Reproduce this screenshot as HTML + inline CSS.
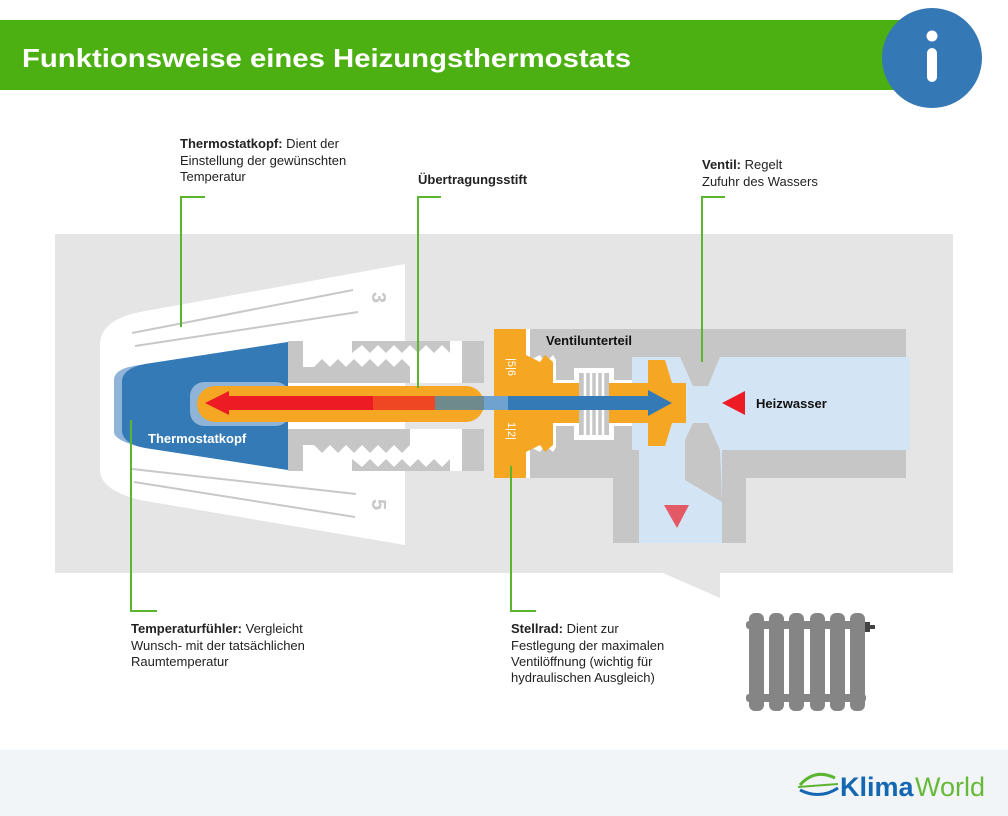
<!DOCTYPE html>
<html><head><meta charset="utf-8"><style>
html,body{margin:0;padding:0;background:#fff;}
svg{display:block;font-family:"Liberation Sans","DejaVu Sans",sans-serif;}
</style></head><body>
<svg width="1008" height="816" viewBox="0 0 1008 816" xmlns="http://www.w3.org/2000/svg">
<!-- header -->
<rect x="0" y="20" width="905" height="70" fill="#4cb012"/>
<text x="22" y="67" font-size="26" font-weight="bold" fill="#fff" textLength="609" lengthAdjust="spacingAndGlyphs">Funktionsweise eines Heizungsthermostats</text>
<circle cx="932" cy="58" r="50" fill="#3478b5"/>
<circle cx="932" cy="36" r="5.5" fill="#fff"/>
<rect x="927" y="48" width="10" height="34" rx="5" fill="#fff"/>

<!-- grey background -->
<rect x="55" y="234" width="898" height="339" fill="#e5e5e5"/>
<polygon points="663,573 720,598 720,573" fill="#e5e5e5"/>

<!-- white head -->
<path d="M100,345 Q100,320 140,312 L405,264 L405,545 L140,500 Q100,490 100,470 Z" fill="#fff"/>
<g stroke="#c8c8c8" stroke-width="2">
<line x1="132" y1="333" x2="353" y2="290"/>
<line x1="135" y1="346" x2="358" y2="312"/>
<line x1="132" y1="469" x2="356" y2="494"/>
<line x1="134" y1="482" x2="355" y2="517"/>
</g>
<text x="0" y="0" font-size="20" font-weight="bold" fill="#c8c8c8" transform="translate(372,292) rotate(90)">3</text>
<text x="0" y="0" font-size="20" font-weight="bold" fill="#c8c8c8" transform="translate(372,499) rotate(90)">5</text>

<!-- thermostat head blue -->
<path d="M114,380 Q114,368 140,365 L288,342 L288,470 L140,447 Q114,440 114,432 Z" fill="#8fb4d8"/>
<path d="M122,380 Q124,368 145,364 L288,342 L288,470 L145,448 Q124,444 122,432 Z" fill="#347ab7"/>
<text x="148" y="443" font-size="13" font-weight="bold" fill="#fff">Thermostatkopf</text>

<!-- threaded part -->
<g id="thr">
<rect x="288" y="341" width="196" height="42" fill="#c6c6c6"/>
<rect x="303" y="341" width="159" height="42" fill="#fff"/>
<polygon points="352,341 450,341 450,353 442,345 434,353 426,345 418,353 410,345 402,353 394,345 386,353 378,345 370,353 362,345 352,353" fill="#c6c6c6"/>
<polygon points="303,383 410,383 410,367 402,359 394,367 386,359 378,367 370,359 362,367 354,359 346,367 338,359 330,367 322,359 314,367 303,367" fill="#c6c6c6"/>
</g>
<use href="#thr" transform="translate(0,812) scale(1,-1)"/>

<!-- rod -->
<rect x="190" y="382" width="100" height="44" rx="14" fill="#8fb4d8"/>
<rect x="197" y="386" width="287" height="36" rx="18" fill="#f5a623"/>

<!-- valve housing -->
<rect x="526" y="329" width="380" height="149" fill="#c6c6c6"/>
<rect x="613" y="478" width="133" height="65" fill="#c6c6c6"/>
<rect x="632" y="357" width="278" height="93" fill="#d3e4f4"/>
<rect x="639" y="450" width="83" height="93" fill="#d3e4f4"/>
<polygon points="680,357 720,357 708,386 693,386" fill="#c6c6c6"/>
<polygon points="693,423 708,423 720,450 722,502 685,480 685,440" fill="#c6c6c6"/>

<!-- white gaps around body -->
<polygon points="526,329 530,329 530,360 540,355 545,363 553,355 556,360 556,380 632,380 632,426 556,426 556,447 553,452 545,445 540,452 530,447 530,478 526,478" fill="#fff"/>
<rect x="574" y="368" width="40" height="72" fill="#fff"/>
<!-- orange stellrad -->
<rect x="494" y="329" width="32" height="149" fill="#f5a623"/>
<polygon points="526,355 540,362 545,355 553,362 553,383 686,383 686,423 553,423 553,445 545,452 540,445 526,452" fill="#f5a623"/>
<rect x="579" y="373" width="30" height="62" fill="#c6c6c6"/>
<g stroke="#fff" stroke-width="2.5"><line x1="585" y1="373" x2="585" y2="435"/><line x1="591" y1="373" x2="591" y2="435"/><line x1="597" y1="373" x2="597" y2="435"/><line x1="603" y1="373" x2="603" y2="435"/></g>
<polygon points="648,360 665,360 672,383 672,423 665,446 648,446" fill="#f5a623"/>
<text x="0" y="0" font-size="11" fill="#fff" transform="translate(508,358) rotate(90)">|5|6</text>
<text x="0" y="0" font-size="11" fill="#fff" transform="translate(508,422) rotate(90)">1|2|</text>

<!-- arrows -->
<rect x="225" y="396" width="148" height="14" fill="#ed1c24"/>
<rect x="373" y="396" width="62" height="14" fill="#ef4623"/>
<rect x="435" y="396" width="73" height="14" fill="#6e8a8c"/>
<rect x="484" y="396" width="24" height="14" fill="#6fa2cf"/>
<polygon points="205,403 229,391 229,415" fill="#ed1c24"/>
<rect x="508" y="396" width="142" height="14" fill="#347ab7"/>
<polygon points="648,390 672,403 648,416" fill="#347ab7"/>

<polygon points="722,403 745,391 745,415" fill="#ed1c24"/>
<polygon points="664,505 689,505 677,528" fill="#e35a66"/>
<text x="546" y="345" font-size="13" font-weight="bold" fill="#111">Ventilunterteil</text>
<text x="756" y="408" font-size="13" font-weight="bold" fill="#111">Heizwasser</text>

<!-- callouts -->
<g stroke="#5cb531" stroke-width="2" fill="none">
<polyline points="205,197 181,197 181,327"/>
<polyline points="441,197 418,197 418,388"/>
<polyline points="725,197 702,197 702,362"/>
<polyline points="131,420 131,611 157,611"/>
<polyline points="511,466 511,611 536,611"/>
</g>
<g font-size="13" fill="#222">
<text x="180" y="148"><tspan font-weight="bold">Thermostatkopf:</tspan> Dient der</text>
<text x="180" y="165">Einstellung der gewünschten</text>
<text x="180" y="181">Temperatur</text>
<text x="418" y="184" font-weight="bold">Übertragungsstift</text>
<text x="702" y="169"><tspan font-weight="bold">Ventil:</tspan> Regelt</text>
<text x="702" y="186">Zufuhr des Wassers</text>
<text x="131" y="633"><tspan font-weight="bold">Temperaturfühler:</tspan> Vergleicht</text>
<text x="131" y="650">Wunsch- mit der tatsächlichen</text>
<text x="131" y="666">Raumtemperatur</text>
<text x="511" y="633"><tspan font-weight="bold">Stellrad:</tspan> Dient zur</text>
<text x="511" y="650">Festlegung der maximalen</text>
<text x="511" y="666">Ventilöffnung (wichtig für</text>
<text x="511" y="682">hydraulischen Ausgleich)</text>
</g>

<!-- radiator -->
<g fill="#858585">
<rect x="746" y="621" width="120" height="8" rx="3"/>
<rect x="746" y="694" width="120" height="8" rx="3"/>
<rect x="749" y="613" width="15" height="98" rx="6"/>
<rect x="769" y="613" width="15" height="98" rx="6"/>
<rect x="789" y="613" width="15" height="98" rx="6"/>
<rect x="810" y="613" width="15" height="98" rx="6"/>
<rect x="830" y="613" width="15" height="98" rx="6"/>
<rect x="850" y="613" width="15" height="98" rx="6"/>
</g>
<rect x="865" y="622" width="5" height="10" fill="#444"/>
<rect x="869" y="625" width="6" height="4" fill="#444"/>

<!-- footer -->
<rect x="0" y="750" width="1008" height="66" fill="#f2f5f8"/>
<path d="M800,785 Q815,768 835,778" stroke="#5cb531" stroke-width="3" fill="none"/>
<path d="M798,787 L838,784" stroke="#5cb531" stroke-width="2"/>
<path d="M800,790 Q820,800 838,788" stroke="#1567b2" stroke-width="3" fill="none"/>
<text x="840" y="796" font-size="27" font-weight="bold" fill="#1567b2">Klima</text>
<text x="915" y="796" font-size="27" fill="#67b93a">World</text>
</svg>
</body></html>
